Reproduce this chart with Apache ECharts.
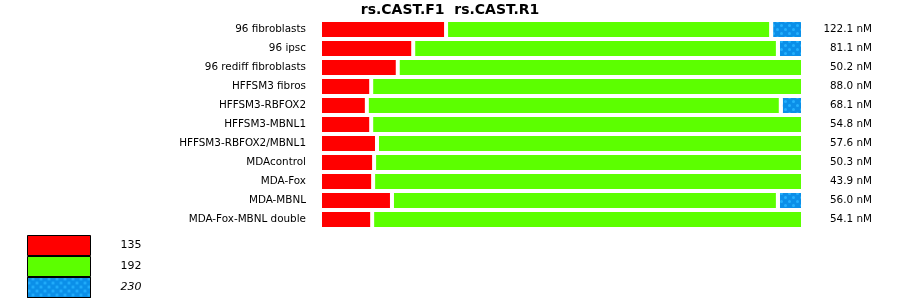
<!DOCTYPE html>
<html>
<head>
<meta charset="utf-8">
<script src="https://cdn.jsdelivr.net/npm/echarts@6/dist/echarts.min.js"></script>
<style>
  html, body { margin: 0; padding: 0; background: #fff; }
  #chart { width: 900px; height: 299px; }
</style>
</head>
<body>
<div id="chart"></div>
<script>
// Samples, top to bottom
const samples = [
  '96 fibroblasts', '96 ipsc', '96 rediff fibroblasts', 'HFFSM3 fibros',
  'HFFSM3-RBFOX2', 'HFFSM3-MBNL1', 'HFFSM3-RBFOX2/MBNL1', 'MDAcontrol',
  'MDA-Fox', 'MDA-MBNL', 'MDA-Fox-MBNL double'
];
// Share of each product (percent of the bar)
const frac135 = [26.1, 19.3, 16.1, 10.6, 9.7, 10.6, 11.8, 11.2, 11.0, 14.9, 10.8];
const frac192 = [67.3, 75.5, 83.9, 89.4, 85.7, 89.4, 88.2, 88.8, 89.0, 79.9, 89.2];
const frac230 = [6.6, 5.2, null, null, 4.6, null, null, null, null, 5.2, null];
// Total concentration per sample
const totals = ['122.1 nM', '81.1 nM', '50.2 nM', '88.0 nM', '68.1 nM', '54.8 nM',
                '57.6 nM', '50.3 nM', '43.9 nM', '56.0 nM', '54.1 nM'];
// Product sizes
const productNames = ['135', '192', '230'];

const FONT = 'DejaVu Sans';
const chart = echarts.init(document.getElementById('chart'), null, { renderer: 'canvas' });

const segStyle = (color, extra) => Object.assign({
  color: color, borderColor: '#ffffff', borderWidth: 2
}, extra || {});

chart.setOption({
  animation: false,
  backgroundColor: '#ffffff',
  title: {
    text: 'rs.CAST.F1  rs.CAST.R1',
    left: 'center',
    top: 3,
    padding: 0,
    textStyle: { fontFamily: FONT, fontSize: 14, fontWeight: 'bold', color: '#000' }
  },
  legend: {
    orient: 'vertical',
    left: 27,
    top: 235,
    padding: 0,
    itemWidth: 63,
    itemHeight: 20,
    itemGap: 0,
    selectedMode: false,
    icon: 'rect',
    itemStyle: { borderColor: '#000', borderWidth: 1 },
    textStyle: { fontFamily: FONT, fontSize: 11, color: '#000', padding: [0, 0, 0, 25] },
    data: [
      { name: productNames[0] },
      { name: productNames[1] },
      { name: productNames[2], textStyle: { fontStyle: 'italic' } }
    ]
  },
  grid: { left: 320, top: 20, width: 483, height: 209, containLabel: false },
  xAxis: { type: 'value', min: 0, max: 100, show: false },
  yAxis: [
    {
      type: 'category', data: samples, inverse: true,
      axisLine: { show: false }, axisTick: { show: false }, splitLine: { show: false },
      axisLabel: { fontFamily: FONT, fontSize: 10.4, color: '#000', margin: 14 }
    },
    {
      type: 'category', data: samples, inverse: true, position: 'right',
      axisLine: { show: false }, axisTick: { show: false }, splitLine: { show: false },
      axisLabel: {
        fontFamily: FONT, fontSize: 10.4, color: '#000', margin: 69, align: 'right',
        formatter: (v, i) => totals[i]
      }
    }
  ],
  series: [
    {
      name: productNames[0], type: 'bar', stack: 'p', barWidth: 19,
      itemStyle: segStyle('#ff0000'), data: frac135
    },
    {
      name: productNames[1], type: 'bar', stack: 'p', barWidth: 19,
      itemStyle: segStyle('#5cff00'), data: frac192
    },
    {
      name: productNames[2], type: 'bar', stack: 'p', barWidth: 19,
      itemStyle: segStyle('#0b8fe8', {
        decal: {
          symbol: 'circle',
          symbolSize: 1,
          color: 'rgba(40,180,255,0.9)',
          dashArrayX: [[3, 5], [0, 4, 3, 1]],
          dashArrayY: [3, 1],
          rotation: 0
        }
      }),
      data: frac230
    }
  ]
});
</script>
</body>
</html>
